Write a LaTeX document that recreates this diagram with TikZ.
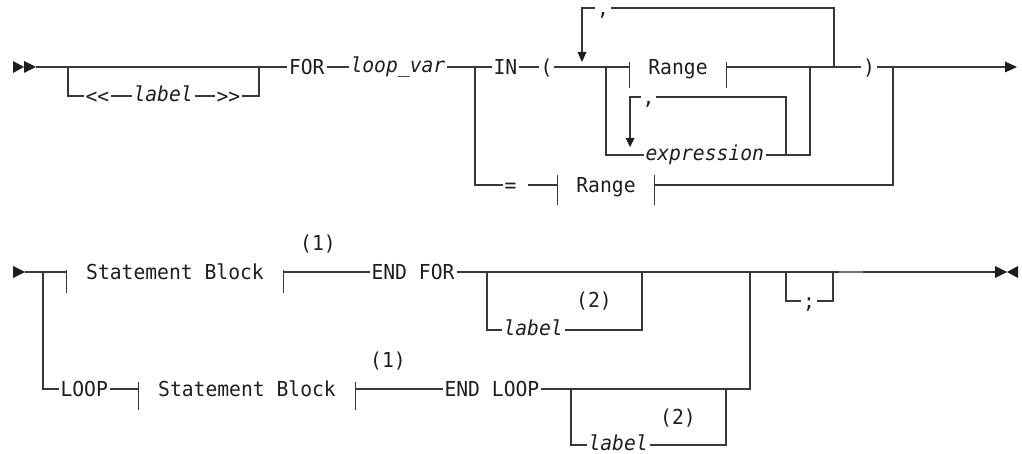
\documentclass[tikz,border=0pt]{standalone}
\usepackage{fontspec}
\newfontfamily\rrfont[FakeStretch=0.955]{DejaVu Sans Mono}
\definecolor{ln}{HTML}{383838}
\definecolor{tx}{HTML}{1E1E1E}
\tikzset{
  kw/.style={font=\rrfont\fontsize{20.6}{23}\selectfont, text=tx, inner xsep=1.5pt, inner ysep=0pt, text height=15pt, text depth=0pt},
  var/.style={font=\rrfont\itshape\fontsize{20.6}{23}\selectfont, text=tx, inner xsep=1.5pt, inner ysep=0pt, text height=11.2pt, text depth=0pt},
  frag/.style={kw, inner xsep=18.75pt},
  fragb/.style={kw, inner xsep=19.5pt},
  tri/.style={fill=tx, draw=none},
}
\begin{document}
\begin{tikzpicture}[x=1pt,y=-1pt,line width=1.1pt,draw=ln]
\useasboundingbox (0,0) rectangle (1022,454);
% ---------- first row ----------
\fill[tri] (13,61) -- (24,67) -- (13,73) -- cycle;
\fill[tri] (24,61) -- (36,67) -- (24,73) -- cycle;
\coordinate (s1) at (36,67);
\coordinate (b1) at (68,67);
\coordinate (b1d) at (68,96);
\coordinate (b1r) at (259,67);
\coordinate (b1rd) at (259,96);
\node[kw,anchor=west] (lt) at (83.5,96) {<\kern0pt<};
\node[var,anchor=west] (lab1) at (131.5,96) {label};
\node[kw,anchor=west] (gt) at (214.5,96) {>\kern0pt>};
\node[kw,anchor=west] (for) at (287,67) {FOR};
\node[var,anchor=west] (lv) at (348.5,67) {loop\_var};
\draw (s1) -- (for.west);
\draw (b1) -- (b1d) -- (lt.west);
\draw (lt.east) -- (lab1.west);
\draw (lab1.east) -- (gt.west);
\draw (gt.east) -- (b1rd) -- (b1r);
\draw (for.east) -- (lv.west);
% IN branch
\coordinate (b2) at (475,67);
\coordinate (b2d) at (475,185);
\node[kw,anchor=west] (in) at (491.5,67) {IN};
\node[kw,anchor=west] (lp) at (538.5,67) {(};
\node[frag] (r1) at (678,67) {Range};
\draw (lv.east) -- (in.west);
\draw (in.east) -- (lp.west);
\draw (lp.east) -- (r1.west);
\draw ([yshift=5pt]r1.west) -- ([yshift=-21pt]r1.west);
\draw ([yshift=5pt]r1.east) -- ([yshift=-21pt]r1.east);
% top repeat loop
\coordinate (l1t) at (582,8);
\coordinate (l1a) at (582,52);
\coordinate (l1r) at (834,8);
\coordinate (l1rb) at (834,67);
\node[kw,anchor=west] (c1) at (595,8) {,};
\draw (l1rb) -- (l1r) -- (c1.east);
\draw (c1.west) -- (l1t) -- (l1a);
\fill[tri] (577.5,52) -- (586.5,52) -- (582,62) -- cycle;
% expression
\coordinate (b3) at (606,67);
\coordinate (b3d) at (606,155);
\node[var,anchor=west] (expr) at (643.5,155) {expression};
\draw (b3) -- (b3d) -- (expr.west);
\coordinate (l2t) at (630,97);
\coordinate (l2a) at (630,138);
\coordinate (l2r) at (786,97);
\coordinate (l2rb) at (786,155);
\node[kw,anchor=west] (c2) at (640.5,97) {,};
\draw (l2rb) -- (l2r) -- (c2.east);
\draw (c2.west) -- (l2t) -- (l2a);
\fill[tri] (625.5,138) -- (634.5,138) -- (630,147) -- cycle;
\coordinate (j1) at (810,155);
\coordinate (j1t) at (810,67);
\draw (expr.east) -- (j1) -- (j1t);
% right side
\node[kw,anchor=west] (rp) at (861,67) {)};
\coordinate (e1) at (1005,67);
\draw (r1.east) -- (rp.west);
\draw (rp.east) -- (e1);
\fill[tri] (1005,61.5) -- (1017,67) -- (1005,72.5) -- cycle;
% = branch
\node[kw,anchor=west] (eq) at (502.5,185) {=};
\node[frag] (r2) at (606,185) {Range};
\draw (b2) -- (b2d) -- (eq.west);
\draw ([xshift=10pt]eq.east) -- (r2.west);
\draw ([yshift=10pt]r2.west) -- ([yshift=-20pt]r2.west);
\draw ([yshift=10pt]r2.east) -- ([yshift=-20pt]r2.east);
\coordinate (j2) at (893,185);
\coordinate (j2t) at (893,67);
\draw (r2.east) -- (j2) -- (j2t);
% ---------- second row ----------
\fill[tri] (13,266) -- (25,272) -- (13,278) -- cycle;
\coordinate (s2) at (25,272);
\coordinate (b4) at (43,272);
\coordinate (b4d) at (43,389);
\node[fragb] (sb1) at (175,272) {Statement Block};
\draw (s2) -- (sb1.west);
\draw ([yshift=2pt]sb1.west) -- ([yshift=-21pt]sb1.west);
\draw ([yshift=2pt]sb1.east) -- ([yshift=-21pt]sb1.east);
\node[kw] (n1) at (318,243) {(1)};
\node[kw,anchor=west] (ef) at (369.5,272) {END FOR};
\draw (sb1.east) -- (ef.west);
\coordinate (e2) at (995,272);
\draw (ef.east) -- (e2);
\fill[tri] (995,266) -- (1007,272) -- (995,278) -- cycle;
\fill[tri] (1018,266) -- (1007,272) -- (1018,278) -- cycle;
% optional label after END FOR
\coordinate (b5) at (487,272);
\coordinate (b5d) at (487,330);
\coordinate (b5r) at (642,272);
\coordinate (b5rd) at (642,330);
\node[var,anchor=west] (lab2) at (501.5,330) {label};
\node[kw] (n2) at (594,300) {(2)};
\draw (b5) -- (b5d) -- (lab2.west);
\draw (lab2.east) -- (b5rd) -- (b5r);
% join of LOOP row
\coordinate (j3) at (750,272);
\coordinate (j3d) at (750,389);
% semicolon
\coordinate (b6) at (786,272);
\coordinate (b6d) at (786,301);
\coordinate (b6r) at (833,272);
\coordinate (b6rd) at (833,301);
\node[kw,anchor=west] (semi) at (801,301) {;};
\draw (b6) -- (b6d) -- (semi.west);
\draw (semi.east) -- (b6rd) -- (b6r);
\draw[line width=1.8pt,draw=black!55] (839,272) -- (863,272);
% LOOP row
\node[kw,anchor=west] (loop) at (58.5,389) {LOOP};
\node[fragb] (sb2) at (247,389) {Statement Block};
\draw (b4) -- (b4d) -- (loop.west);
\draw (loop.east) -- (sb2.west);
\draw ([yshift=7pt]sb2.west) -- ([yshift=-21pt]sb2.west);
\draw ([yshift=7pt]sb2.east) -- ([yshift=-21pt]sb2.east);
\node[kw] (n3) at (388,360) {(1)};
\node[kw,anchor=west] (el) at (442.5,389) {END LOOP};
\draw (sb2.east) -- (el.west);
\draw (el.east) -- (j3d) -- (j3);
\coordinate (b7) at (571,389);
\coordinate (b7d) at (571,445);
\coordinate (b7r) at (726,389);
\coordinate (b7rd) at (726,445);
\node[var,anchor=west] (lab3) at (586.5,445) {label};
\node[kw] (n4) at (678,417) {(2)};
\draw (b7) -- (b7d) -- (lab3.west);
\draw (lab3.east) -- (b7rd) -- (b7r);
\end{tikzpicture}
\end{document}
